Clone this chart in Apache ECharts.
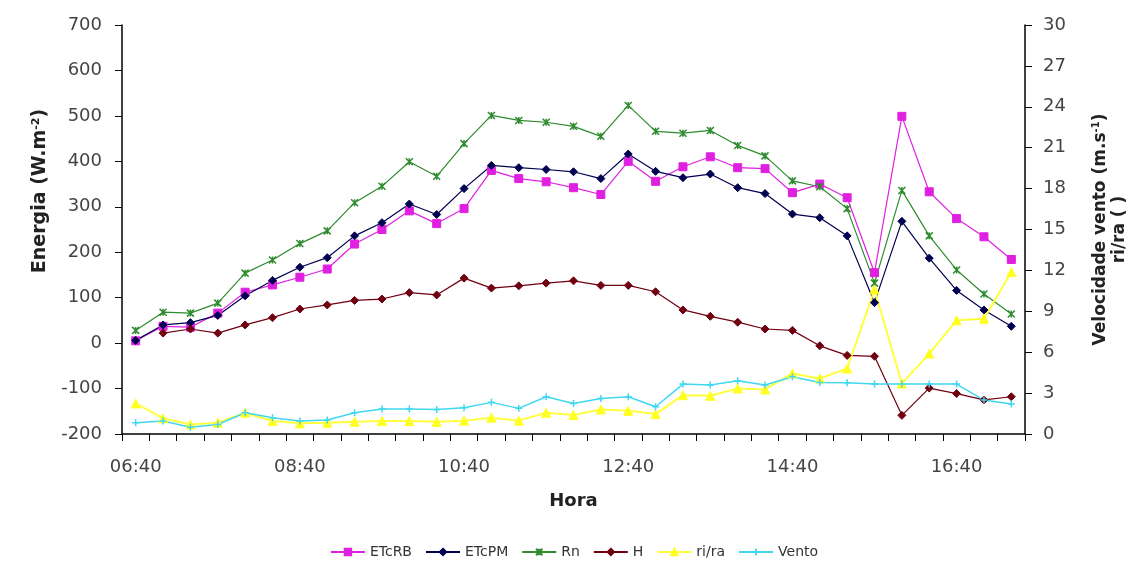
<!DOCTYPE html>
<html><head><meta charset="utf-8">
<script src="https://cdn.jsdelivr.net/npm/echarts@6/dist/echarts.min.js"></script>
<style>html,body{margin:0;padding:0;background:#fff}#c{width:1148px;height:570px}</style>
</head><body><div id="c"></div>
<script>
const horas = ["06:40","07:00","07:20","07:40","08:00","08:20","08:40","09:00","09:20","09:40","10:00","10:20","10:40","11:00","11:20","11:40","12:00","12:20","12:40","13:00","13:20","13:40","14:00","14:20","14:40","15:00","15:20","15:40","16:00","16:20","16:40","17:00","17:20"];
const ETcRB = [5,37,35,66,112,128,145,163,218,250,291,263,296,380,362,355,342,327,400,356,388,410,386,384,331,350,320,155,499,333,274,234,184];
const ETcPM = [6,40,45,61,104,138,167,188,236,265,306,283,340,391,386,382,377,362,416,378,364,372,342,329,284,276,236,89,268,187,116,73,37];
const Rn = [28,68,66,88,154,183,219,247,309,345,399,367,439,501,490,486,477,455,523,466,462,468,435,412,357,344,296,132,336,236,161,108,64];
const H = [null,22,31,22,40,56,75,84,94,97,111,106,143,121,126,132,137,127,127,113,73,59,46,31,28,-6,-27,-29,-159,-99,-111,-125,-118];
const riRa = [2.24,1.15,0.7,0.83,1.56,0.95,0.78,0.83,0.9,0.95,0.95,0.9,0.98,1.2,0.98,1.56,1.39,1.8,1.7,1.46,2.85,2.8,3.34,3.27,4.44,4.07,4.8,10.6,3.7,5.9,8.34,8.46,11.88];
const Vento = [0.83,0.95,0.49,0.7,1.56,1.2,0.95,1.02,1.56,1.83,1.83,1.8,1.93,2.32,1.88,2.73,2.24,2.6,2.73,2.0,3.66,3.59,3.9,3.59,4.2,3.78,3.76,3.66,3.66,3.66,3.66,2.49,2.2];

const FONT = '"DejaVu Sans", "Liberation Sans", Arial, sans-serif';
const chart = echarts.init(document.getElementById('c'));
const xMark = 'path://M0,0 L10,10 M10,0 L0,10 M5,0 L5,10';
const plusMark = 'path://M5,0 L5,10 M0,5 L10,5';
function s(name, data, color, symbol, size, yIdx, extra) {
  return Object.assign({
    name, type: 'line', data, yAxisIndex: yIdx, symbol, symbolSize: size,
    showAllSymbol: true, connectNulls: false,
    lineStyle: { color, width: 1.2 },
    itemStyle: { color, borderColor: color, borderWidth: 1 },
    animation: false
  }, extra || {});
}
chart.setOption({
  animation: false,
  grid: { left: 122, right: 123, top: 25, height: 409 },
  graphic: [{
    type: 'text', x: 40, y: 191, rotation: Math.PI / 2,
    style: {
      text: '{a|Energia (W.m}{s|-2}{a|)}', align: 'center', verticalAlign: 'middle',
      rich: {
        a: { fontFamily: FONT, fontSize: 19, fontWeight: 'bold', fill: '#222' },
        s: { fontFamily: FONT, fontSize: 11, fontWeight: 'bold', fill: '#222', verticalAlign: 'top', padding: [0,0,8,0] }
      }
    }
  }],
  legend: {
    bottom: 6, left: 'center', itemWidth: 34, itemHeight: 8, itemGap: 13,
    textStyle: { fontFamily: FONT, fontSize: 14, color: '#333' },
    data: ['ETcRB','ETcPM','Rn','H','ri/ra','Vento']
  },
  xAxis: {
    type: 'category', data: horas, boundaryGap: true,
    name: 'Hora', nameLocation: 'middle', nameGap: 58,
    nameTextStyle: { fontFamily: FONT, fontSize: 18, fontWeight: 'bold', color: '#222' },
    axisLine: { onZero: false, lineStyle: { color: '#000', width: 1.5 } },
    axisTick: { show: true, interval: 0, length: 7, lineStyle: { color: '#000' } },
    axisLabel: { interval: 5, fontFamily: FONT, fontSize: 18, color: '#444', margin: 24 },
    splitLine: { show: false }
  },
  yAxis: [
    {
      type: 'value', min: -200, max: 700, interval: 100,
      axisLine: { show: true, lineStyle: { color: '#000', width: 1.5 } },
      axisTick: { show: true, length: 7, lineStyle: { color: '#000' } },
      axisLabel: { fontFamily: FONT, fontSize: 18, color: '#444', margin: 20 },
      splitLine: { show: false }
    },
    {
      type: 'value', min: 0, max: 30, interval: 3, position: 'right',
      name: '{a|Velocidade vento (m.s}{s|-1}{a|)}\n{a|ri/ra ( )}', nameLocation: 'middle', nameGap: 66, nameRotate: 90,
      nameTextStyle: { lineHeight: 19, rich: {
        a: { fontFamily: FONT, fontSize: 17, fontWeight: 'bold', color: '#222', lineHeight: 19 },
        s: { fontFamily: FONT, fontSize: 10, fontWeight: 'bold', color: '#222', verticalAlign: 'top', lineHeight: 19 }
      } },
      axisLine: { show: true, lineStyle: { color: '#000', width: 1.5 } },
      axisTick: { show: true, length: 7, lineStyle: { color: '#000' } },
      axisLabel: { fontFamily: FONT, fontSize: 18, color: '#444', margin: 18 },
      splitLine: { show: false }
    }
  ],
  series: [
    s('ETcRB', ETcRB, '#E020E0', 'rect', 8, 0),
    s('ETcPM', ETcPM, '#000050', 'diamond', 8, 0),
    s('Rn', Rn, '#2E8B2E', xMark, 7, 0, { itemStyle: { color: 'none', borderColor: '#2E8B2E', borderWidth: 1.5 } }),
    s('H', H, '#700010', 'diamond', 8, 0),
    s('ri/ra', riRa, '#FFFF20', 'triangle', 9, 1, { lineStyle: { color: '#FFFF40', width: 2 } }),
    s('Vento', Vento, '#40D8F0', plusMark, 7, 1, { itemStyle: { color: 'none', borderColor: '#40D8F0', borderWidth: 1.5 }, lineStyle: { color: '#40D8F0', width: 1.5 } })
  ]
});
</script></body></html>
